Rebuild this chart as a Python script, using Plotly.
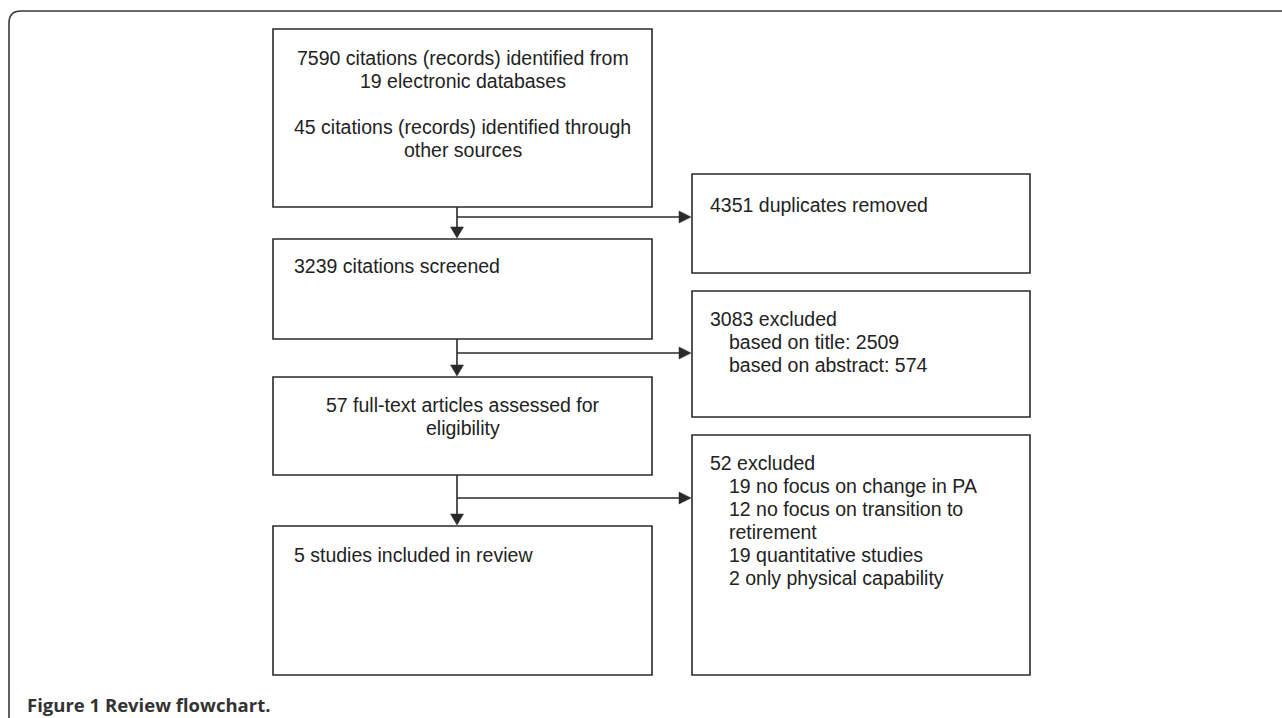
import plotly.graph_objects as go

W, H = 1282, 718

# ---- content ----
main_texts = [
    ["7590 citations (records) identified from", "19 electronic databases", "",
     "45 citations (records) identified through", "other sources"],
    ["3239 citations screened"],
    ["57 full-text articles assessed for", "eligibility"],
    ["5 studies included in review"],
]
main_align = ["center", "left", "center", "left"]

side_texts = [
    ["4351 duplicates removed"],
    ["3083 excluded", "based on title: 2509", "based on abstract: 574"],
    ["52 excluded", "19 no focus on change in PA", "12 no focus on transition to",
     "retirement", "19 quantitative studies", "2 only physical capability"],
]
side_indent = [[0], [0, 1, 1], [0, 1, 1, 1, 1, 1]]

caption_bold = "Figure 1"
caption_rest = "Review flowchart."

# ---- layout geometry ----
main_x0, main_x1 = 273, 652
main_y = [(29, 207), (239, 339), (377, 475), (526, 675)]
main_text_top = [58, 266, 405, 555]
side_x0, side_x1 = 692, 1030
side_y = [(174, 273), (291, 417), (435, 675)]
side_text_top = [205, 319, 463]
branch_y = [217, 353, 498]
trunk_x = 457
line_h = 23
text_left_pad = 19
indent_px = 19

LC = "#2a2a2a"
TC = "#222222"
FONT = "Liberation Sans, Arial, sans-serif"
FS = 19.5

fig = go.Figure()
shapes = []
annotations = []

# outer rounded frame (clipped by page edges)
shapes.append(dict(type="path", xref="x", yref="y",
                   path="M 1300,11 L 21,11 Q 9,11 9,23 L 9,740",
                   line=dict(color="#3a3a3a", width=1.6)))

def rect(x0, y0, x1, y1):
    shapes.append(dict(type="rect", xref="x", yref="y", x0=x0, y0=y0, x1=x1, y1=y1,
                       line=dict(color=LC, width=1.6), fillcolor="rgba(0,0,0,0)"))

for (y0, y1) in main_y:
    rect(main_x0, y0, main_x1, y1)
for (y0, y1) in side_y:
    rect(side_x0, y0, side_x1, y1)

# arrows
for i in range(3):
    top = main_y[i][1]
    nxt = main_y[i + 1][0]
    tip = nxt - 1
    shapes.append(dict(type="line", xref="x", yref="y", x0=trunk_x, y0=top, x1=trunk_x, y1=tip - 10,
                       line=dict(color=LC, width=1.6)))
    shapes.append(dict(type="path", xref="x", yref="y",
                       path=f"M {trunk_x-6.5},{tip-11} L {trunk_x+6.5},{tip-11} L {trunk_x},{tip} Z",
                       fillcolor=LC, line=dict(color=LC, width=0.5)))
    by = branch_y[i]
    htip = side_x0 - 1
    shapes.append(dict(type="line", xref="x", yref="y", x0=trunk_x, y0=by, x1=htip - 11, y1=by,
                       line=dict(color=LC, width=1.6)))
    shapes.append(dict(type="path", xref="x", yref="y",
                       path=f"M {htip-12},{by-6} L {htip-12},{by+6} L {htip},{by} Z",
                       fillcolor=LC, line=dict(color=LC, width=0.5)))

# text in main boxes
for lines, align, ty in zip(main_texts, main_align, main_text_top):
    for k, ln in enumerate(lines):
        if not ln:
            continue
        y = ty + k * line_h
        if align == "center":
            annotations.append(dict(x=(main_x0 + main_x1) / 2, y=y, xref="x", yref="y", text=ln,
                                    showarrow=False, xanchor="center", yanchor="middle",
                                    font=dict(family=FONT, size=FS, color=TC)))
        else:
            annotations.append(dict(x=main_x0 + text_left_pad, y=y, xref="x", yref="y", text=ln,
                                    showarrow=False, xanchor="left", yanchor="middle",
                                    font=dict(family=FONT, size=FS, color=TC)))

for lines, ind, ty in zip(side_texts, side_indent, side_text_top):
    for k, (ln, d) in enumerate(zip(lines, ind)):
        y = ty + k * line_h
        annotations.append(dict(x=side_x0 + 16 + d * indent_px, y=y, xref="x", yref="y", text=ln,
                                showarrow=False, xanchor="left", yanchor="middle",
                                font=dict(family=FONT, size=FS, color=TC)))

annotations.append(dict(x=25, y=704, xref="x", yref="y",
                        text=f"<b>{caption_bold}</b> <b>{caption_rest}</b>",
                        showarrow=False, xanchor="left", yanchor="middle",
                        font=dict(family="Open Sans, sans-serif", size=18.5, color="#333333")))

fig.update_layout(
    width=W, height=H,
    margin=dict(l=0, r=0, t=0, b=0),
    paper_bgcolor="white", plot_bgcolor="white",
    xaxis=dict(range=[0, W], visible=False, fixedrange=True),
    yaxis=dict(range=[H, 0], visible=False, fixedrange=True),
    shapes=shapes, annotations=annotations, showlegend=False,
)

fig.write_html("out.html", config={"displayModeBar": False},
               post_script="document.body.style.margin='0';document.body.style.overflow='hidden';")
